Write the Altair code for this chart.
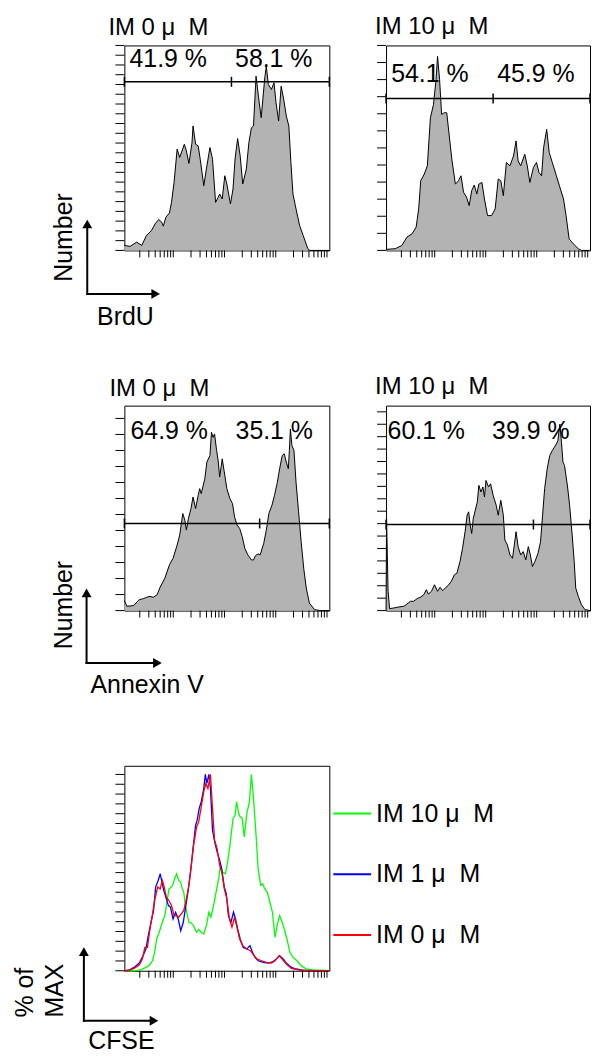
import altair as alt
import numpy as np
import pandas as pd

FONT = "Liberation Sans"
FILL = "#b3b3b3"
NB = "\u00a0"

# ---------------- data (x = log10 fluorescence, y = events) ----------------
P1_X = [0.00, 0.11, 0.24, 0.34, 0.43, 0.53, 0.60, 0.67, 0.73, 0.76,
        0.81, 0.88, 0.92, 0.97, 1.03, 1.08, 1.17, 1.21, 1.26, 1.32,
        1.34, 1.39, 1.44, 1.48, 1.55, 1.60, 1.67, 1.72, 1.78, 1.83,
        1.86, 1.91, 1.96, 2.00, 2.07, 2.12, 2.16, 2.21, 2.26, 2.31,
        2.38, 2.43, 2.48, 2.52, 2.57, 2.62, 2.67, 2.74, 2.77, 2.81,
        2.87, 2.92, 2.96, 3.01, 3.06, 3.11, 3.16, 3.21, 3.25, 3.29,
        3.35, 3.42, 3.49, 3.58, 3.62, 4.00]
P1_Y = [4.1, 3.3, 6.8, 4.1, 12.2, 16.3, 21.8, 25.3, 23.1, 19.9,
        27.2, 30.7, 39.4, 55.8, 83.0, 76.2, 87.0, 81.6, 71.3, 88.4,
        102.0, 87.0, 85.7, 74.8, 53.0, 66.6, 84.3, 74.8, 39.4, 43.5,
        46.2, 42.2, 61.2, 54.4, 38.1, 50.3, 74.8, 91.7, 77.5, 54.4,
        66.6, 88.4, 100.6, 102.0, 142.8, 125.1, 108.8, 141.4, 151.0, 136.0,
        131.9, 137.4, 121.0, 106.1, 134.6, 123.8, 110.2, 102.0, 72.1, 46.2,
        34.0, 20.4, 12.2, 1.4, 0, 0]

P2_X = [0.00, 0.18, 0.31, 0.41, 0.51, 0.59, 0.64, 0.68, 0.75, 0.81,
        0.87, 0.93, 0.98, 1.01, 1.05, 1.09, 1.14, 1.19, 1.24, 1.29,
        1.36, 1.42, 1.47, 1.52, 1.58, 1.63, 1.68, 1.73, 1.78, 1.82,
        1.88, 1.93, 1.99, 2.07, 2.14, 2.20, 2.25, 2.30, 2.36, 2.43,
        2.50, 2.55, 2.59, 2.64, 2.72, 2.77, 2.82, 2.89, 2.95, 3.00,
        3.05, 3.09, 3.15, 3.20, 3.26, 3.34, 3.42, 3.48, 3.53, 3.59,
        3.67, 3.77, 3.83, 3.99]
P2_Y = [0.6, 1.0, 2.9, 7.8, 9.7, 13.6, 24.3, 40.8, 44.7, 49.5,
        77.7, 85.4, 100.0, 113.6, 100.0, 79.6, 80.6, 80.6, 67.0, 53.4,
        38.8, 40.8, 43.7, 34.0, 31.1, 26.2, 35.0, 38.3, 33.0, 38.8,
        39.8, 30.1, 20.4, 20.4, 24.3, 41.8, 40.8, 32.0, 51.5, 49.5,
        55.3, 64.1, 52.4, 49.5, 56.3, 49.5, 39.8, 48.6, 51.5, 45.6,
        43.7, 60.2, 70.9, 57.3, 51.5, 43.7, 35.9, 30.1, 20.4, 6.8,
        3.9, 1.0, 0, 0]

P3_X = [0.00, 0.05, 0.18, 0.29, 0.37, 0.43, 0.50, 0.56, 0.64, 0.69,
        0.79, 0.88, 0.95, 1.03, 1.08, 1.14, 1.18, 1.21, 1.25, 1.30,
        1.34, 1.39, 1.44, 1.47, 1.50, 1.57, 1.61, 1.67, 1.70, 1.73,
        1.76, 1.80, 1.83, 1.86, 1.91, 1.96, 2.00, 2.06, 2.11, 2.15,
        2.20, 2.25, 2.30, 2.35, 2.41, 2.48, 2.52, 2.56, 2.61, 2.65,
        2.72, 2.77, 2.82, 2.88, 2.93, 2.98, 3.03, 3.08, 3.12, 3.16,
        3.20, 3.22, 3.24, 3.27, 3.31, 3.35, 3.40, 3.45, 3.50, 3.55,
        3.61, 3.71, 3.81, 4.00]
P3_Y = [15.5, 6.7, 7.8, 17.1, 18.6, 20.7, 22.2, 20.7, 24.8, 35.2,
        50.7, 71.4, 81.7, 102.4, 117.9, 151.6, 141.2, 125.7, 143.8, 159.3,
        177.4, 159.3, 180.0, 190.4, 182.6, 205.9, 231.8, 242.1, 278.3, 270.5,
        275.7, 249.9, 234.3, 208.5, 236.9, 211.1, 190.4, 174.8, 167.1, 146.4,
        133.5, 128.3, 115.4, 97.3, 86.9, 79.1, 79.1, 85.9, 88.5, 86.9,
        105.0, 125.7, 151.6, 164.5, 180.0, 198.1, 221.4, 242.1, 244.7, 231.8,
        221.4, 249.9, 283.5, 257.6, 249.9, 200.7, 154.2, 107.6, 66.2, 35.2,
        11.9, 1.6, 0, 0]

P4_X = [0.00, 0.01, 0.04, 0.07, 0.15, 0.25, 0.35, 0.41, 0.48, 0.54,
        0.61, 0.67, 0.74, 0.79, 0.83, 0.89, 0.95, 1.01, 1.06, 1.11,
        1.16, 1.22, 1.28, 1.34, 1.39, 1.45, 1.50, 1.55, 1.59, 1.62,
        1.65, 1.68, 1.71, 1.75, 1.79, 1.82, 1.86, 1.90, 1.93, 1.96,
        2.01, 2.05, 2.10, 2.16, 2.20, 2.25, 2.30, 2.33, 2.38, 2.43,
        2.48, 2.55, 2.59, 2.64, 2.69, 2.74, 2.79, 2.83, 2.87, 2.92,
        2.98, 3.03, 3.07, 3.11, 3.16, 3.21, 3.26, 3.30, 3.34, 3.37,
        3.41, 3.44, 3.47, 3.50, 3.56, 3.60, 3.65, 3.69, 3.72, 3.77,
        3.83, 3.90, 4.00]
P4_Y = [0, 74.1, 15.5, 1.6, 2.1, 2.9, 3.5, 5.3, 7.5, 7.5,
        9.6, 10.7, 12.8, 16.8, 13.3, 15.5, 20.8, 15.5, 18.7, 16.0,
        18.1, 20.3, 23.5, 28.8, 30.1, 39.5, 50.1, 63.5, 76.8, 79.5,
        68.8, 62.1, 74.1, 80.8, 87.5, 100.8, 95.5, 99.5, 91.5, 104.8,
        99.5, 102.1, 92.8, 84.8, 76.8, 88.8, 76.8, 56.8, 52.8, 44.8,
        42.1, 63.5, 51.5, 44.8, 47.5, 40.8, 51.5, 44.8, 35.5, 39.5,
        46.1, 55.5, 76.8, 98.1, 114.1, 124.8, 128.8, 131.5, 134.1, 136.8,
        150.1, 135.5, 119.5, 116.8, 99.5, 84.8, 60.8, 39.5, 18.1, 11.5,
        4.8, 0.8, 0]

# CFSE overlay (% of max)
G_X = [0.00, 0.19, 0.32, 0.42, 0.48, 0.55, 0.59, 0.63, 0.68, 0.74,
       0.79, 0.84, 0.87, 0.92, 0.95, 0.98, 1.02, 1.06, 1.10, 1.13,
       1.16, 1.19, 1.23, 1.26, 1.30, 1.35, 1.41, 1.45, 1.50, 1.55,
       1.60, 1.65, 1.69, 1.74, 1.79, 1.84, 1.87, 1.92, 1.97, 2.01,
       2.06, 2.12, 2.16, 2.19, 2.23, 2.26, 2.30, 2.34, 2.39, 2.44,
       2.48, 2.52, 2.57, 2.61, 2.66, 2.70, 2.74, 2.79, 2.84, 2.89,
       2.94, 2.98, 3.03, 3.08, 3.13, 3.18, 3.23, 3.29, 3.37, 3.45,
       3.55, 3.68, 3.81, 4.00]
G_Y = [0, 0, 0.5, 1.7, 2.6, 5.1, 9.4, 16.2, 19.6, 24.7,
       28.1, 36.6, 41.7, 42.6, 44.3, 46.9, 49.4, 46.0, 45.2, 41.7,
       40.0, 33.2, 28.1, 24.7, 24.4, 23.0, 19.6, 21.0, 19.6, 18.7,
       23.0, 29.8, 27.3, 33.2, 40.0, 46.9, 52.8, 50.2, 49.4, 54.5,
       63.9, 77.5, 79.2, 86.1, 80.1, 78.4, 77.5, 68.2, 80.1, 86.1,
       100.0, 87.8, 69.0, 52.0, 43.5, 44.3, 41.7, 40.0, 34.9, 29.8,
       17.0, 23.0, 28.1, 24.7, 20.4, 15.3, 9.4, 6.8, 5.1, 2.6,
       0.9, 0.5, 0.3, 0]
B_X = [0.00, 0.10, 0.19, 0.29, 0.35, 0.42, 0.46, 0.52, 0.57, 0.61,
       0.66, 0.70, 0.74, 0.77, 0.82, 0.86, 0.90, 0.95, 1.00, 1.05,
       1.10, 1.15, 1.19, 1.24, 1.29, 1.34, 1.39, 1.42, 1.46, 1.50,
       1.55, 1.58, 1.61, 1.65, 1.68, 1.72, 1.77, 1.82, 1.86, 1.90,
       1.95, 1.99, 2.03, 2.08, 2.13, 2.17, 2.21, 2.26, 2.32, 2.39,
       2.45, 2.50, 2.55, 2.61, 2.71, 2.81, 2.90, 2.98, 3.03, 3.10,
       3.16, 3.26, 3.35, 3.48, 3.68, 4.00]
B_Y = [0, 0.5, 1.7, 3.9, 6.8, 11.1, 17.0, 24.7, 30.7, 42.6,
       46.0, 49.4, 44.3, 40.9, 36.6, 33.2, 32.4, 26.4, 29.8, 26.4,
       20.4, 24.7, 31.5, 40.0, 50.3, 62.2, 74.1, 76.7, 82.6, 86.1,
       92.9, 100.0, 95.4, 100.0, 92.9, 71.6, 64.8, 59.6, 56.2, 52.0,
       42.6, 39.2, 28.1, 24.7, 29.8, 26.4, 21.3, 16.2, 11.9, 11.1,
       12.8, 9.4, 6.8, 5.1, 4.3, 3.9, 4.6, 6.3, 7.7, 6.0,
       3.9, 1.7, 0.9, 0.3, 0, 0]
R_X = [0.00, 0.10, 0.19, 0.29, 0.35, 0.40, 0.45, 0.50, 0.55, 0.59,
       0.65, 0.70, 0.74, 0.77, 0.82, 0.87, 0.92, 0.97, 1.01, 1.06,
       1.11, 1.16, 1.21, 1.26, 1.30, 1.35, 1.41, 1.45, 1.50, 1.55,
       1.59, 1.63, 1.68, 1.72, 1.76, 1.81, 1.86, 1.90, 1.95, 2.00,
       2.05, 2.10, 2.15, 2.19, 2.25, 2.31, 2.39, 2.46, 2.53, 2.59,
       2.68, 2.77, 2.87, 2.94, 3.02, 3.08, 3.16, 3.26, 3.39, 3.55,
       4.00]
R_Y = [0, 0.3, 1.2, 2.9, 6.0, 11.9, 11.9, 21.3, 29.0, 35.8,
       42.6, 41.7, 46.0, 43.5, 37.5, 35.8, 33.2, 28.1, 28.1, 27.3,
       29.0, 30.7, 36.6, 43.5, 52.0, 63.9, 73.3, 75.8, 83.5, 91.2,
       95.4, 92.9, 100.0, 82.6, 66.5, 62.2, 53.7, 50.3, 41.7, 36.6,
       26.4, 22.2, 27.3, 23.0, 16.2, 12.8, 11.1, 10.2, 7.7, 6.0,
       5.1, 4.3, 3.9, 5.1, 7.7, 6.0, 3.4, 1.2, 0.5, 0.2,
       0]

SERIES = ["IM 10 \u03bc" + NB + " M", "IM 1 \u03bc" + NB + " M", "IM 0 \u03bc" + NB + " M"]
SERIES_COLORS = ["#00ff00", "#0000ff", "#ff0000"]

TITLES = ["IM 0 \u03bc" + NB + " M", "IM 10 \u03bc" + NB + " M",
          "IM 0 \u03bc" + NB + " M", "IM 10 \u03bc" + NB + " M"]
PCT_LABELS = [["41.9 %", "58.1 %"], ["54.1 %", "45.9 %"],
              ["64.9 %", "35.1 %"], ["60.1 %", "39.9 %"]]
PCT_X = [[0.10, 2.16], [0.10, 2.18], [0.12, 2.17], [0.03, 2.08]]
PCT_Y = [150.0, 98.4, 268.6, 138.4]
GATE_Y = [138.2, 88.9, 136.0, 69.3]
GATE_MID = [2.09, 2.10, 2.64, 2.89]

X_DECADES = [0, 1, 2, 3, 4]
X_MINOR = [d + np.log10(m) for d in range(4) for m in range(2, 10)]
Y_MAX = [168, 120, 320, 165, 104.4]
Y_MAJOR = [[0, 40, 80, 120, 160], [0, 30, 60, 90, 120], [0, 100, 200, 300],
           [0, 40, 80, 120, 160], [0, 20, 40, 60, 80, 100]]
Y_MINOR = [list(range(0, 169, 8)), list(range(0, 121, 10)), list(range(0, 320, 25)),
           list(range(0, 165, 10)), list(range(0, 105, 5))]

ONE = pd.DataFrame({"k": [0]})


def scales(i):
    return (alt.Scale(domain=[0, 4], nice=False, zero=False),
            alt.Scale(domain=[0, Y_MAX[i]], nice=False, zero=False))


def frame_layers(i, w, h):
    xs, ys = scales(i)
    xminor = alt.Chart(pd.DataFrame({"x": X_MINOR})).mark_rule(color="black", strokeWidth=1).encode(
        x=alt.X("x:Q", scale=xs, axis=None), y=alt.value(h), y2=alt.value(h + 7))
    yminor = alt.Chart(pd.DataFrame({"y": Y_MINOR[i]})).mark_rule(color="black", strokeWidth=1).encode(
        y=alt.Y("y:Q", scale=ys, axis=None), x=alt.value(-9), x2=alt.value(0))
    return [xminor, yminor]


def axes(i, xlen):
    xs, ys = scales(i)
    xa = alt.Axis(values=X_DECADES, tickSize=xlen, labels=False, title=None, grid=False,
                  domainColor="black", tickColor="black", tickWidth=1)
    ya = alt.Axis(values=Y_MAJOR[i], tickSize=19, labels=False, title=None, grid=False,
                  domainColor="black", tickColor="black", tickWidth=1)
    return xs, ys, xa, ya


def text_value(t, x, y, size, align="left", angle=None, baseline="alphabetic"):
    kw = dict(align=align, baseline=baseline, fontSize=size, font=FONT, color="black")
    if angle is not None:
        kw["angle"] = angle
    return alt.Chart(pd.DataFrame({"t": [t]})).mark_text(**kw).encode(
        text="t:N", x=alt.value(x), y=alt.value(y))


def arrows(vx, tip_y, corner_y, htip_x):
    v = alt.Chart(ONE).mark_rule(color="black", strokeWidth=2).encode(
        x=alt.value(vx), y=alt.value(tip_y + 6), y2=alt.value(corner_y + 1))
    hz = alt.Chart(ONE).mark_rule(color="black", strokeWidth=2).encode(
        x=alt.value(vx - 1), x2=alt.value(htip_x - 6), y=alt.value(corner_y))
    up = alt.Chart(ONE).mark_point(shape="triangle-up", filled=True, size=100, color="black",
                                   opacity=1, strokeWidth=0).encode(
        x=alt.value(vx), y=alt.value(tip_y + 4.5))
    rt = alt.Chart(ONE).mark_point(shape="triangle-right", filled=True, size=100, color="black",
                                   opacity=1, strokeWidth=0).encode(
        x=alt.value(htip_x - 4.5), y=alt.value(corner_y))
    return [v, hz, up, rt]


def hist_panel(i, xs_data, ys_data, w, h, xlen, title_dx, title_dy, extra=None):
    xs, ys, xa, ya = axes(i, xlen)
    df = pd.DataFrame({"x": xs_data, "y": ys_data})
    area = alt.Chart(df).mark_area(color=FILL, opacity=1, fillOpacity=1,
                                   line={"color": "black", "strokeWidth": 1}).encode(
        x=alt.X("x:Q", scale=xs, axis=xa), y=alt.Y("y:Q", scale=ys, axis=ya))
    gate = alt.Chart(pd.DataFrame({"x": [0], "x2": [4], "y": [GATE_Y[i]]})).mark_rule(
        color="black", strokeWidth=1.5).encode(
        x=alt.X("x:Q", scale=xs, axis=None), x2="x2:Q", y=alt.Y("y:Q", scale=ys, axis=None))
    gticks = alt.Chart(pd.DataFrame({"x": [0, GATE_MID[i], 4], "y": [GATE_Y[i]] * 3})).mark_tick(
        orient="vertical", size=10, thickness=1.5, color="black", opacity=1).encode(
        x=alt.X("x:Q", scale=xs, axis=None), y=alt.Y("y:Q", scale=ys, axis=None))
    pct = alt.Chart(pd.DataFrame({"x": PCT_X[i], "y": [PCT_Y[i]] * 2, "t": PCT_LABELS[i]})).mark_text(
        align="left", baseline="alphabetic", fontSize=25, font=FONT, color="black").encode(
        x=alt.X("x:Q", scale=xs, axis=None), y=alt.Y("y:Q", scale=ys, axis=None), text="t:N")
    title = text_value(TITLES[i], title_dx, title_dy, 24)
    layers = [area, gate, gticks, pct, title] + frame_layers(i, w, h)
    if extra:
        layers += extra
    return alt.layer(*layers).properties(width=w, height=h)


H = 206
anchor = alt.Chart(ONE).mark_rule(opacity=0).encode(
    x=alt.value(-124), x2=alt.value(-123), y=alt.value(-42))

p1 = hist_panel(0, P1_X, P1_Y, 206, H, 15, -16, -10,
                extra=arrows(-37.3, 175, 249.7, 36)
                + [text_value("Number", -60.7, 193, 25, align="center", angle=270, baseline="middle"),
                   text_value("BrdU", 1, 281, 25, align="center"),
                   anchor])
p2 = hist_panel(1, P2_X, P2_Y, 205, H, 19, -11, -12)
p3 = hist_panel(2, P3_X, P3_Y, 206, H, 20, -15, -10,
                extra=arrows(-38, 183.7, 258.7, 37.7)
                + [text_value("Number", -61, 200.5, 25, align="center", angle=270, baseline="middle"),
                   text_value("Annexin V", -34, 288.7, 25)])
p4 = hist_panel(3, P4_X, P4_Y, 205, H, 19, -11, -12)

# CFSE overlay panel
xs5, ys5, xa5, ya5 = axes(4, 19)
cfse = pd.concat([
    pd.DataFrame({"x": G_X, "y": G_Y, "s": SERIES[0]}),
    pd.DataFrame({"x": B_X, "y": B_Y, "s": SERIES[1]}),
    pd.DataFrame({"x": R_X, "y": R_Y, "s": SERIES[2]}),
], ignore_index=True)
lines = alt.Chart(cfse).mark_line(strokeWidth=1.3).encode(
    x=alt.X("x:Q", scale=xs5, axis=xa5),
    y=alt.Y("y:Q", scale=ys5, axis=ya5),
    color=alt.Color("s:N", sort=SERIES,
                    scale=alt.Scale(domain=SERIES, range=SERIES_COLORS),
                    legend=alt.Legend(title=None, orient="none", legendX=209, legendY=28,
                                      direction="vertical", symbolType="stroke", symbolSize=1444,
                                      symbolStrokeWidth=2, labelFont=FONT, labelFontSize=25,
                                      labelColor="black", labelOffset=4, rowPadding=28,
                                      padding=0)),
    detail="s:N")
p5 = alt.layer(
    lines, *frame_layers(4, 206, H),
    *arrows(-40.7, 182.3, 256.3, 34.3),
    text_value("% of", -100, 228, 25, align="center", angle=270, baseline="middle"),
    text_value("MAX", -70, 226, 25, align="center", angle=270, baseline="middle"),
    text_value("CFSE", -3, 284.7, 25, align="center"),
).properties(width=206, height=H)

chart = alt.concat(p1, p2, p3, p4, p5, columns=2, bounds="flush",
                   spacing={"row": 156, "column": 57}).resolve_scale(
    color="independent").resolve_legend(color="independent").properties(
    padding=0).configure_view(stroke="black", strokeWidth=1)

chart.save("out.html", embed_options={"renderer": "svg", "actions": False})
